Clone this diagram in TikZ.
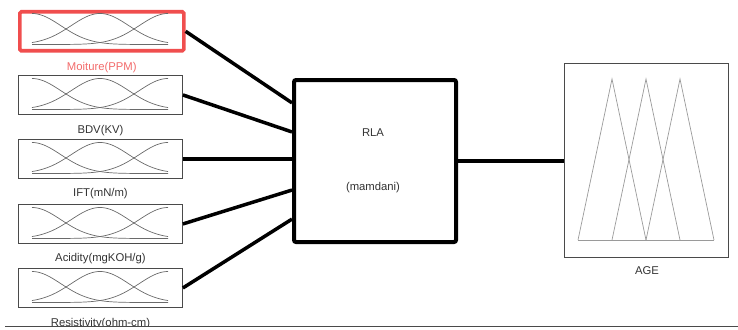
\documentclass[tikz,border=0pt]{standalone}
\usepackage{fontspec}
\setmainfont{Liberation Sans}
\usetikzlibrary{calc}
\definecolor{hl}{HTML}{F04E4E}
\definecolor{hltext}{HTML}{F26A6A}
\definecolor{boxc}{HTML}{4A4A4A}
\definecolor{curvec}{HTML}{6A6A6A}
\definecolor{tric}{HTML}{9A9A9A}
\definecolor{txt}{HTML}{333333}
\begin{document}
\begin{tikzpicture}[x=1pt,y=-1pt,
 inbox/.style={draw=boxc, line width=0.9pt, minimum width=164pt, minimum height=39pt, inner sep=0pt, anchor=north west},
 lbl/.style={font=\fontsize{11.3}{13}\selectfont, text=txt, inner sep=0pt},
 conn/.style={line width=3.5pt, black},
 mf/.style={curvec, line width=0.7pt},
 tri/.style={tric, line width=0.7pt},
]
\useasboundingbox (0,0) rectangle (738,329);
% input boxes
\node[inbox, draw=hl, line width=3.6pt, rounded corners=1.5pt] (in1) at (18,10) {};
\node[inbox] (in2) at (18,75) {};
\node[inbox] (in3) at (18,139) {};
\node[inbox] (in4) at (18,204) {};
\node[inbox] (in5) at (18,268) {};
% membership curves
\foreach \t in {10,75,139,204,268} {
  \draw[mf] plot[domain=32:168,samples=80] (\x,{\t+34.5-31*exp(-0.5*((\x-32)/28.9)*((\x-32)/28.9))});
  \draw[mf] plot[domain=32:168,samples=80] (\x,{\t+34.5-31*exp(-0.5*((\x-100)/28.9)*((\x-100)/28.9))});
  \draw[mf] plot[domain=32:168,samples=80] (\x,{\t+34.5-31*exp(-0.5*((\x-168)/28.9)*((\x-168)/28.9))});
}
% labels
\node[lbl, text=hltext] (l1) at ([yshift=-15pt]in1.south) {Moiture(PPM)};
\node[lbl] (l2) at ([yshift=-16pt]in2.south) {BDV(KV)};
\node[lbl] (l3) at ([yshift=-15pt]in3.south) {IFT(mN/m)};
\node[lbl] (l4) at ([yshift=-15pt]in4.south) {Acidity(mgKOH/g)};
\begin{scope}
  \clip (0,0) rectangle (738,325.5);
  \node[lbl] (l5) at ([yshift=-16pt]in5.south) {Resistivity(ohm-cm)};
\end{scope}
% RLA block
\node[draw=black, line width=4pt, rounded corners=2pt, minimum width=162pt, minimum height=162pt, inner sep=0pt, anchor=north west] (rla) at (292,78) {};
\node[lbl] (rlat) at (373,133) {RLA};
\node[lbl] (mam) at (373,188) {(mamdani)};
% connectors
\draw[conn] (in1.east) -- ($(rla.north west)!0.15!(rla.south west)$);
\draw[conn] (in2.east) -- ($(rla.north west)!0.325!(rla.south west)$);
\draw[conn] (in3.east) -- (in3.east -| rla.west);
\draw[conn] (in4.east) -- ($(rla.north west)!0.675!(rla.south west)$);
\draw[conn] (in5.east) -- ($(rla.north west)!0.85!(rla.south west)$);
% output
\node[draw=boxc, line width=0.9pt, minimum width=164pt, minimum height=194pt, inner sep=0pt, anchor=north west] (age) at (564,63) {};
\draw[conn] (rla.east) -- (rla.east -| age.west);
\draw[tri] (578,240) -- (612,79) -- (646,240);
\draw[tri] (612,240) -- (646,79) -- (680,240);
\draw[tri] (646,240) -- (680,79) -- (714,240);
\draw[tri] (578,240) -- (714,240);
\node[lbl] (agel) at (647,271) {AGE};
% bottom rule
\draw[boxc, line width=1pt] (5,326) -- (738,326);
\end{tikzpicture}
\end{document}
